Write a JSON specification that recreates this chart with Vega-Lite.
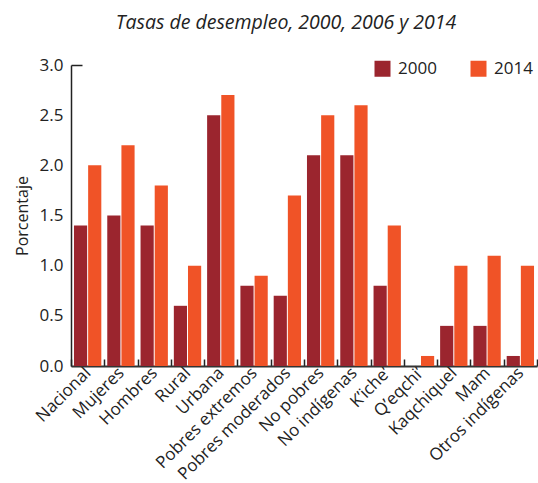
{
  "$schema": "https://vega.github.io/schema/vega-lite/v6.json",
  "autosize": {"type": "none"},
  "width": 466,
  "height": 301,
  "padding": {"left": 71, "top": 65, "right": 1, "bottom": 117},
  "background": "white",
  "config": {"view": {"stroke": null}, "font": "Open Sans"},
  "title": {"text": "Tasas de desempleo, 2000, 2006 y 2014", "fontStyle": "italic", "fontWeight": "normal", "fontSize": 19.5, "color": "#222", "offset": 23, "dx": -18},
  "data": {"values": [
    {"g": "Nacional", "year": "2000", "v": 1.4}, {"g": "Nacional", "year": "2014", "v": 2.0},
    {"g": "Mujeres", "year": "2000", "v": 1.5}, {"g": "Mujeres", "year": "2014", "v": 2.2},
    {"g": "Hombres", "year": "2000", "v": 1.4}, {"g": "Hombres", "year": "2014", "v": 1.8},
    {"g": "Rural", "year": "2000", "v": 0.6}, {"g": "Rural", "year": "2014", "v": 1.0},
    {"g": "Urbana", "year": "2000", "v": 2.5}, {"g": "Urbana", "year": "2014", "v": 2.7},
    {"g": "Pobres extremos", "year": "2000", "v": 0.8}, {"g": "Pobres extremos", "year": "2014", "v": 0.9},
    {"g": "Pobres moderados", "year": "2000", "v": 0.7}, {"g": "Pobres moderados", "year": "2014", "v": 1.7},
    {"g": "No pobres", "year": "2000", "v": 2.1}, {"g": "No pobres", "year": "2014", "v": 2.5},
    {"g": "No indígenas", "year": "2000", "v": 2.1}, {"g": "No indígenas", "year": "2014", "v": 2.6},
    {"g": "K’iche’", "year": "2000", "v": 0.8}, {"g": "K’iche’", "year": "2014", "v": 1.4},
    {"g": "Q’eqchi’", "year": "2000", "v": 0.0}, {"g": "Q’eqchi’", "year": "2014", "v": 0.1},
    {"g": "Kaqchiquel", "year": "2000", "v": 0.4}, {"g": "Kaqchiquel", "year": "2014", "v": 1.0},
    {"g": "Mam", "year": "2000", "v": 0.4}, {"g": "Mam", "year": "2014", "v": 1.1},
    {"g": "Otros indígenas", "year": "2000", "v": 0.1}, {"g": "Otros indígenas", "year": "2014", "v": 1.0}
  ]},
  "mark": {"type": "bar"},
  "encoding": {
    "x": {"field": "g", "type": "nominal", "sort": null, "title": null,
      "scale": {"paddingInner": 0, "paddingOuter": 0},
      "axis": {"labelAngle": -45, "labelAlign": "right", "labelBaseline": "middle", "labelFontSize": 17, "labelColor": "#222", "labelPadding": 11,
        "tickBand": "extent", "tickSize": -7, "tickColor": "#222", "tickWidth": 1.5, "domainColor": "#333", "domainWidth": 2}},
    "xOffset": {"field": "year", "type": "nominal", "scale": {"paddingInner": 0.07, "paddingOuter": 0.21}},
    "y": {"field": "v", "type": "quantitative", "title": "Porcentaje",
      "scale": {"domain": [0, 3]},
      "axis": {"values": [0, 0.5, 1, 1.5, 2, 2.5, 3], "format": ".1f", "grid": false, "labelFontSize": 17, "labelColor": "#222", "labelPadding": 19,
        "tickSize": -11, "tickColor": "#222", "tickWidth": 1.5,
        "tickOpacity": {"condition": {"test": "datum.value == 3", "value": 1}, "value": 0},
        "domainColor": "#222", "domainWidth": 1.5,
        "titleFontSize": 16, "titleFontWeight": "normal", "titleColor": "#222", "titlePadding": 9}},
    "color": {"field": "year", "type": "nominal", "title": null,
      "scale": {"domain": ["2000", "2014"], "range": ["#9B252E", "#F05327"]},
      "legend": {"orient": "none", "legendX": 303, "legendY": -5, "direction": "horizontal", "symbolType": "square", "symbolSize": 256, "symbolStrokeWidth": 0, "symbolOpacity": 1,
        "labelFontSize": 17, "labelColor": "#222", "labelOffset": 7, "columnPadding": 33}}
  }
}
